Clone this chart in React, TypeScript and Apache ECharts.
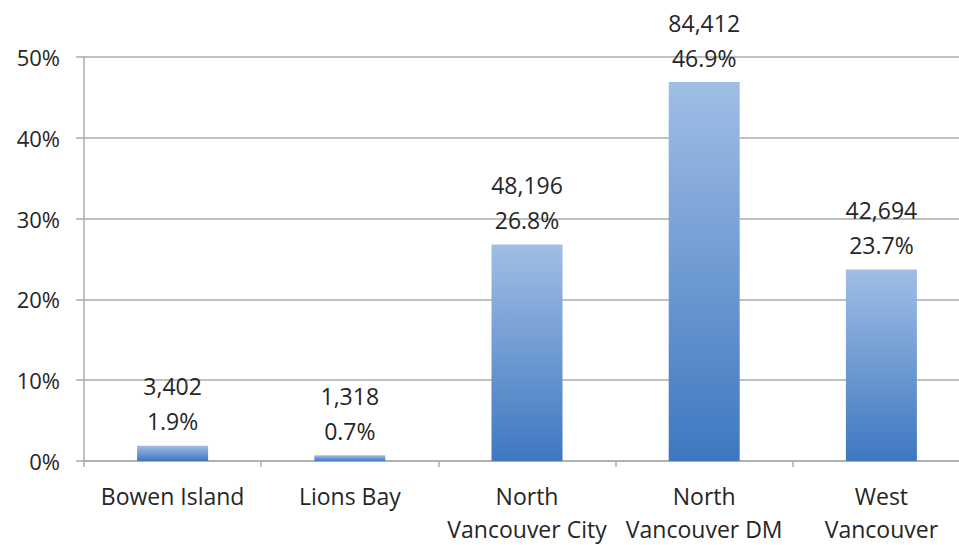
import React, { useEffect, useRef } from "react";
import * as echarts from "echarts";

const categories = ["Bowen Island", "Lions Bay", "North\nVancouver City", "North\nVancouver DM", "West\nVancouver"];
const percents = [1.9, 0.7, 26.8, 46.9, 23.7];
const populations = [3402, 1318, 48196, 84412, 42694];
const yTicks = [0, 10, 20, 30, 40, 50];

const FONT = "'Open Sans', sans-serif";
const TEXT = "#262626";
const GRID = "#ababab";

export default function App() {
  const ref = useRef<HTMLDivElement>(null);
  useEffect(() => {
    if (!ref.current) return;
    const chart = echarts.init(ref.current, null, { renderer: "svg" });
    chart.setOption({
      animation: false,
      backgroundColor: "#ffffff",
      grid: { left: 84, top: 57, bottom: 83, right: 6, containLabel: false },
      xAxis: {
        type: "category",
        data: categories,
        boundaryGap: true,
        axisLine: { show: true, lineStyle: { color: GRID, width: 1.5 } },
        axisTick: { show: true, length: 6, lineStyle: { color: GRID, width: 1.5 } },
        axisLabel: {
          interval: 0,
          margin: 18,
          fontFamily: FONT,
          fontSize: 23,
          lineHeight: 33,
          color: TEXT,
        },
      },
      yAxis: {
        type: "value",
        min: yTicks[0],
        max: yTicks[yTicks.length - 1],
        interval: 10,
        axisLine: { show: true, lineStyle: { color: GRID, width: 1.5 } },
        axisTick: { show: true, length: 8, lineStyle: { color: GRID, width: 1.5 } },
        splitLine: { show: true, lineStyle: { color: GRID, width: 1.5 } },
        axisLabel: {
          formatter: "{value}%",
          margin: 24,
          fontFamily: FONT,
          fontSize: 22,
          color: TEXT,
        },
      },
      series: [
        {
          type: "bar",
          data: percents,
          barWidth: 71,
          itemStyle: {
            color: new echarts.graphic.LinearGradient(0, 0, 0, 1, [
              { offset: 0, color: "#a0bee5" },
              { offset: 1, color: "#3e77c0" },
            ]),
          },
          label: {
            show: true,
            position: "top",
            distance: 7,
            fontFamily: FONT,
            fontSize: 23,
            lineHeight: 35,
            color: TEXT,
            formatter: (p: any) =>
              `${populations[p.dataIndex].toLocaleString("en-US")}\n${percents[p.dataIndex].toFixed(1)}%`,
          },
        },
      ],
    });
    return () => chart.dispose();
  }, []);
  return (
    <div
      ref={ref}
      style={{ position: "fixed", left: 0, top: 0, width: 976, height: 545, background: "#fff" }}
    />
  );
}
